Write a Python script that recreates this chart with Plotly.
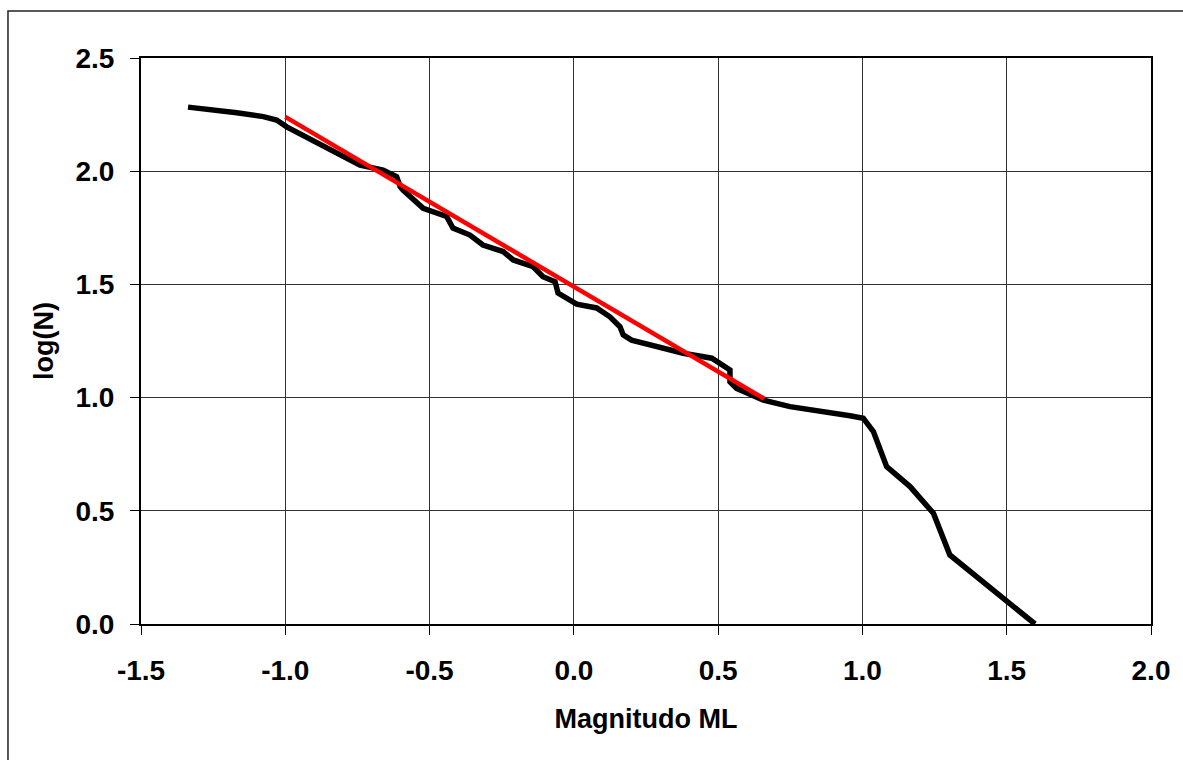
import plotly.graph_objects as go

# Observed cumulative frequency-magnitude curve
magnitude = [-1.337, -1.226, -1.168, -1.076, -1.030, -0.995, -0.939, -0.869, -0.800, -0.741,
             -0.661, -0.614, -0.602, -0.592, -0.522, -0.441, -0.419, -0.360, -0.315, -0.245,
             -0.210, -0.141, -0.107, -0.065, -0.055, 0.010, 0.079, 0.125, 0.160, 0.171,
             0.200, 0.379, 0.478, 0.541, 0.541, 0.564, 0.657, 0.749, 0.957, 1.003,
             1.038, 1.084, 1.165, 1.246, 1.303, 1.500, 1.598]
log_n = [2.283, 2.270, 2.258, 2.241, 2.226, 2.196, 2.160, 2.116, 2.071, 2.027,
         2.005, 1.976, 1.932, 1.917, 1.836, 1.800, 1.749, 1.718, 1.674, 1.645,
         1.608, 1.578, 1.534, 1.512, 1.462, 1.413, 1.396, 1.357, 1.313, 1.277,
         1.254, 1.196, 1.174, 1.122, 1.070, 1.041, 0.989, 0.960, 0.920, 0.909,
         0.850, 0.695, 0.607, 0.489, 0.305, 0.106, 0.000]

# Gutenberg-Richter linear fit
fit_mag = [-1.0, 0.66]
fit_log_n = [2.24, 0.995]

x_ticks = [-1.5, -1.0, -0.5, 0.0, 0.5, 1.0, 1.5, 2.0]
y_ticks = [0.0, 0.5, 1.0, 1.5, 2.0, 2.5]

fig = go.Figure()
fig.add_trace(go.Scatter(x=magnitude, y=log_n, mode="lines",
                         line=dict(color="black", width=5.5), showlegend=False))
fig.add_trace(go.Scatter(x=fit_mag, y=fit_log_n, mode="lines",
                         line=dict(color="#ff0000", width=4.5), showlegend=False))

font_family = "Liberation Sans, Arial, sans-serif"

fig.update_layout(
    width=1183, height=760,
    margin=dict(l=141, r=32, t=58, b=136),
    paper_bgcolor="white", plot_bgcolor="white",
    font=dict(family=font_family, color="black"),
    shapes=[dict(type="rect", xref="paper", yref="paper",
                 x0=-0.1317, y0=-0.30, x1=1.08, y1=1.083,
                 line=dict(color="#222222", width=1.5), layer="below")],
)
fig.update_xaxes(
    range=[-1.5, 2.0], tickvals=x_ticks, ticktext=[f"{v:.1f}" for v in x_ticks],
    showgrid=True, gridcolor="#333333", gridwidth=1,
    showline=True, linecolor="black", linewidth=2, mirror=True,
    ticks="outside", ticklen=9, tickcolor="black", tickwidth=1,
    tickfont=dict(size=28, family=font_family, color="black", weight="bold"),
    ticklabelstandoff=11,
    zeroline=False,
    title=dict(text="<b>Magnitudo ML</b>", font=dict(size=27, family=font_family, color="black"),
               standoff=25),
)
fig.update_yaxes(
    range=[0.0, 2.5], tickvals=y_ticks, ticktext=[f"{v:.1f}" for v in y_ticks],
    showgrid=True, gridcolor="#333333", gridwidth=1,
    showline=True, linecolor="black", linewidth=2, mirror=True,
    ticks="outside", ticklen=9, tickcolor="black", tickwidth=1,
    tickfont=dict(size=28, family=font_family, color="black", weight="bold"),
    ticklabelstandoff=10,
    zeroline=False,
    title=dict(text="<b>log(N)</b>", font=dict(size=27, family=font_family, color="black"),
               standoff=14),
)

fig.write_html("out.html",
               config={"displayModeBar": False},
               post_script="document.body.style.margin='0';document.body.style.overflow='hidden';")
